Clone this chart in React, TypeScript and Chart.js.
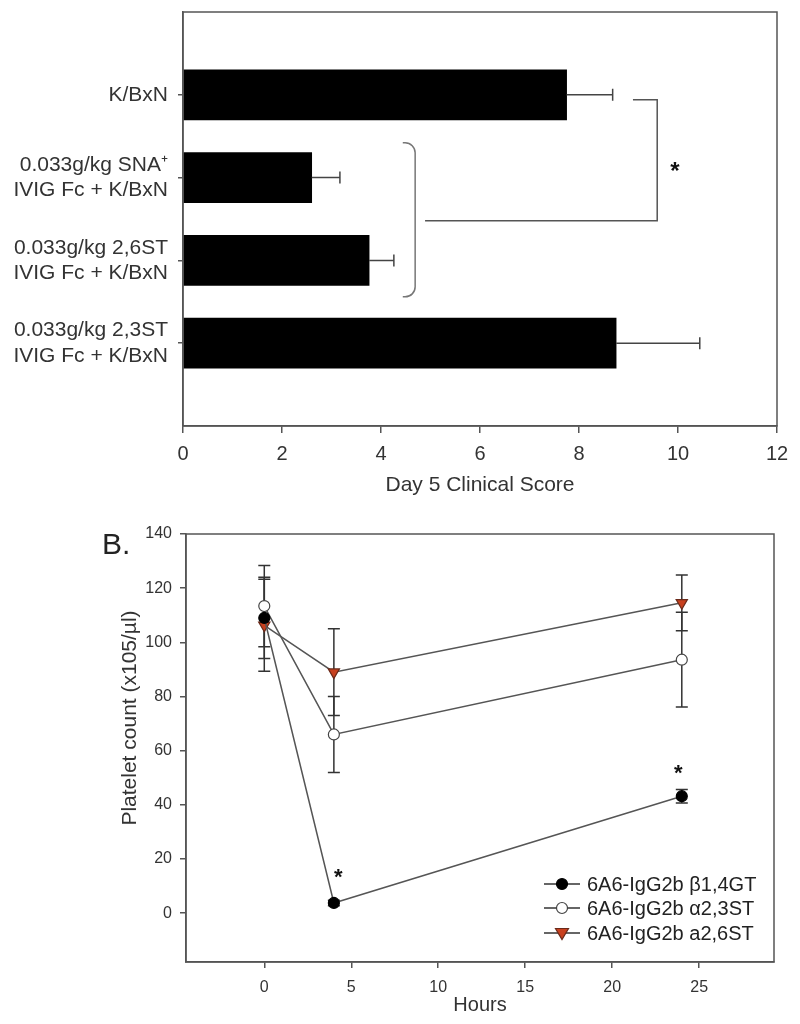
import React, { useEffect, useRef } from 'react';
import { Chart, registerables } from 'chart.js';

Chart.register(...registerables);

const FONT = "'Liberation Sans', Arial, sans-serif";

// ---------- Panel A data ----------
const scoreCategories: (string | string[])[] = [
  '',
  'K/BxN',
  ['0.033g/kg SNA⁺', 'IVIG Fc + K/BxN'],
  ['0.033g/kg 2,6ST', 'IVIG Fc + K/BxN'],
  ['0.033g/kg 2,3ST', 'IVIG Fc + K/BxN'],
  '',
];
const scoreValues: (number | null)[] = [null, 7.75, 2.6, 3.76, 8.75, null];
const scoreErrors: (number | null)[] = [null, 0.93, 0.57, 0.5, 1.69, null];
const scoreTicks = [0, 2, 4, 6, 8, 10, 12];
const scoreTitle = 'Day 5 Clinical Score';

// significance annotations (data units: x = score, y = category index)
const groupBracketX = [4.44, 4.69];
const groupBracketY = [1.58, 3.44];
const sigLineX = [4.89, 9.58];
const sigLineTopX = 9.09;
const sigLineY = [1.06, 2.52];
const sigStarA = { x: 9.94, y: 1.85 };

// ---------- Panel B data ----------
const hours = [0, 4, 24];
const seriesNames = ['6A6-IgG2b β1,4GT', '6A6-IgG2b α2,3ST', '6A6-IgG2b a2,6ST'];
const gtValues = [109, 3.8, 43.2];
const gtErrors = [15, 1, 2.5];
const st23Values = [113.4, 66, 93.6];
const st23Errors = [15, 14, 17.5];
const st26Values = [106.3, 89, 114.6];
const st26Errors = [17, 16, 10.3];
const hourTicks = [0, 5, 10, 15, 20, 25];
const countTicks = [0, 20, 40, 60, 80, 100, 120, 140];
const sigStarsB = [
  { x: 4.25, y: 15.5 },
  { x: 23.8, y: 54 },
];

const RED = '#c8401e';

function drawStar(ctx: CanvasRenderingContext2D, x: number, y: number, size: number) {
  ctx.save();
  ctx.fillStyle = '#111';
  ctx.font = `bold ${size}px ${FONT}`;
  ctx.textAlign = 'center';
  ctx.textBaseline = 'alphabetic';
  ctx.fillText('*', x, y + size * 0.57);
  ctx.restore();
}

function drawMarker(ctx: CanvasRenderingContext2D, kind: number, x: number, y: number) {
  ctx.save();
  ctx.lineWidth = 1.2;
  if (kind === 0) {
    ctx.fillStyle = '#000';
    ctx.strokeStyle = '#000';
    ctx.beginPath();
    ctx.arc(x, y, 5.5, 0, Math.PI * 2);
    ctx.fill();
    ctx.stroke();
  } else if (kind === 1) {
    ctx.fillStyle = '#fff';
    ctx.strokeStyle = '#444';
    ctx.beginPath();
    ctx.arc(x, y, 5.5, 0, Math.PI * 2);
    ctx.fill();
    ctx.stroke();
  } else {
    ctx.fillStyle = RED;
    ctx.strokeStyle = '#6a2a1a';
    ctx.beginPath();
    ctx.moveTo(x - 6.5, y - 4.5);
    ctx.lineTo(x + 6.5, y - 4.5);
    ctx.lineTo(x, y + 6.5);
    ctx.closePath();
    ctx.fill();
    ctx.stroke();
  }
  ctx.restore();
}

function topConfig(): any {
  const plugin = {
    id: 'panelA',
    afterDatasetsDraw(chart: any) {
      const ctx: CanvasRenderingContext2D = chart.ctx;
      const xs = chart.scales.x;
      const ys = chart.scales.y;
      const X = (v: number) => xs.getPixelForValue(v);
      const Y = (v: number) => ys.getPixelForValue(v);
      ctx.save();
      // error bars
      ctx.strokeStyle = '#444';
      ctx.lineWidth = 1.5;
      scoreValues.forEach((v, i) => {
        const e = scoreErrors[i];
        if (v == null || e == null) return;
        const x0 = X(v);
        const x1 = X(v + e);
        const yy = Y(i);
        ctx.beginPath();
        ctx.moveTo(x0, yy);
        ctx.lineTo(x1, yy);
        ctx.moveTo(x1, yy - 6);
        ctx.lineTo(x1, yy + 6);
        ctx.stroke();
      });
      // frame
      const a = chart.chartArea;
      ctx.strokeStyle = '#555';
      ctx.lineWidth = 1.5;
      ctx.strokeRect(a.left, a.top, a.right - a.left, a.bottom - a.top);
      // group bracket
      ctx.strokeStyle = '#777';
      ctx.lineWidth = 1.5;
      const bx0 = X(groupBracketX[0]);
      const bx1 = X(groupBracketX[1]);
      const by0 = Y(groupBracketY[0]);
      const by1 = Y(groupBracketY[1]);
      ctx.beginPath();
      ctx.moveTo(bx0, by0);
      ctx.arcTo(bx1, by0, bx1, by1, 10);
      ctx.arcTo(bx1, by1, bx0, by1, 10);
      ctx.lineTo(bx0, by1);
      ctx.stroke();
      // significance connector
      ctx.strokeStyle = '#555';
      ctx.beginPath();
      ctx.moveTo(X(sigLineX[0]), Y(sigLineY[1]));
      ctx.lineTo(X(sigLineX[1]), Y(sigLineY[1]));
      ctx.lineTo(X(sigLineX[1]), Y(sigLineY[0]));
      ctx.lineTo(X(sigLineTopX), Y(sigLineY[0]));
      ctx.stroke();
      ctx.restore();
      drawStar(ctx, X(sigStarA.x), Y(sigStarA.y), 24);
    },
  };

  return {
    type: 'bar',
    data: {
      labels: scoreCategories,
      datasets: [
        {
          data: scoreValues,
          backgroundColor: '#000',
          borderWidth: 0,
          barThickness: 50,
        },
      ],
    },
    options: {
      animation: false,
      responsive: false,
      maintainAspectRatio: false,
      indexAxis: 'y',
      layout: { padding: { left: 0, right: 23, top: 12, bottom: 0 } },
      plugins: { legend: { display: false }, tooltip: { enabled: false } },
      scales: {
        x: {
          type: 'linear',
          min: 0,
          max: 12,
          afterFit: (s: any) => {
            s.height = 74;
          },
          afterBuildTicks: (s: any) => {
            s.ticks = scoreTicks.map((v) => ({ value: v }));
          },
          ticks: { color: '#333', font: { family: FONT, size: 20 }, padding: 9, maxRotation: 0 },
          grid: { drawOnChartArea: false, drawTicks: true, tickLength: 7, color: '#555', lineWidth: 1.5 },
          border: { display: true, color: '#555', width: 1.5 },
          title: {
            display: true,
            text: scoreTitle,
            color: '#333',
            font: { family: FONT, size: 21 },
            padding: { top: 0, bottom: 2 },
          },
        },
        y: {
          type: 'category',
          offset: false,
          afterFit: (s: any) => {
            s.width = 183;
            s.paddingTop = 0;
            s.paddingBottom = 0;
          },
          ticks: { color: '#333', font: { family: FONT, size: 21 }, padding: 10, autoSkip: false },
          grid: {
            offset: false,
            drawOnChartArea: false,
            drawTicks: true,
            tickLength: 5,
            lineWidth: 1.5,
            color: (c: any) =>
              c.index === 0 || c.index === scoreCategories.length - 1 ? 'rgba(0,0,0,0)' : '#555',
          },
          border: { display: true, color: '#555', width: 1.5 },
        },
      },
    },
    plugins: [plugin],
  };
}

function bottomConfig(): any {
  const seriesValues = [gtValues, st23Values, st26Values];
  const seriesErrors = [gtErrors, st23Errors, st26Errors];

  const plugin = {
    id: 'panelB',
    beforeDatasetsDraw(chart: any) {
      const ctx: CanvasRenderingContext2D = chart.ctx;
      const xs = chart.scales.x;
      const ys = chart.scales.y;
      ctx.save();
      ctx.strokeStyle = '#333';
      ctx.lineWidth = 1.5;
      seriesValues.forEach((vals, s) => {
        vals.forEach((v, i) => {
          const e = seriesErrors[s][i];
          const px = xs.getPixelForValue(hours[i]);
          const yTop = ys.getPixelForValue(v + e);
          const yBot = ys.getPixelForValue(v - e);
          ctx.beginPath();
          ctx.moveTo(px, yTop);
          ctx.lineTo(px, yBot);
          ctx.moveTo(px - 6, yTop);
          ctx.lineTo(px + 6, yTop);
          ctx.moveTo(px - 6, yBot);
          ctx.lineTo(px + 6, yBot);
          ctx.stroke();
        });
      });
      ctx.restore();
    },
    afterDraw(chart: any) {
      const ctx: CanvasRenderingContext2D = chart.ctx;
      const xs = chart.scales.x;
      const ys = chart.scales.y;
      const a = chart.chartArea;
      ctx.save();
      ctx.strokeStyle = '#555';
      ctx.lineWidth = 1.5;
      ctx.strokeRect(a.left, a.top, a.right - a.left, a.bottom - a.top);
      ctx.restore();

      sigStarsB.forEach((s) => drawStar(ctx, xs.getPixelForValue(s.x), ys.getPixelForValue(s.y), 22));

      // legend
      ctx.save();
      const lx = a.right - 230;
      const rows = [a.bottom - 78, a.bottom - 54, a.bottom - 29];
      seriesNames.forEach((name, i) => {
        const ry = rows[i];
        ctx.strokeStyle = '#333';
        ctx.lineWidth = 1.5;
        ctx.beginPath();
        ctx.moveTo(lx, ry);
        ctx.lineTo(lx + 36, ry);
        ctx.stroke();
        drawMarker(ctx, i, lx + 18, ry);
        ctx.fillStyle = '#222';
        ctx.font = `20px ${FONT}`;
        ctx.textAlign = 'left';
        ctx.textBaseline = 'middle';
        ctx.fillText(name, lx + 43, ry + 1);
      });

      // y title
      ctx.save();
      ctx.translate(a.left - 56, a.top + 184);
      ctx.rotate(-Math.PI / 2);
      ctx.fillStyle = '#333';
      ctx.font = `21px ${FONT}`;
      ctx.textAlign = 'center';
      ctx.textBaseline = 'middle';
      ctx.fillText('Platelet count (x105/µl)', 0, 0);
      ctx.restore();

      // panel label
      ctx.fillStyle = '#222';
      ctx.font = `30px ${FONT}`;
      ctx.textAlign = 'left';
      ctx.textBaseline = 'middle';
      ctx.fillText('B.', a.left - 84, a.top + 12);
      ctx.restore();
    },
  };

  const mk = (vals: number[], i: number) => ({
    label: seriesNames[i],
    data: hours.map((h, k) => ({ x: h, y: vals[k] })),
    borderColor: '#555',
    borderWidth: 1.5,
    tension: 0,
    fill: false,
    pointRadius: i === 2 ? 6.5 : 5.5,
    pointStyle: i === 2 ? 'triangle' : 'circle',
    rotation: i === 2 ? 180 : 0,
    pointRotation: i === 2 ? 180 : 0,
    pointBackgroundColor: i === 0 ? '#000' : i === 1 ? '#fff' : RED,
    pointBorderColor: i === 0 ? '#000' : i === 1 ? '#444' : '#6a2a1a',
    pointBorderWidth: 1.2,
  });

  return {
    type: 'line',
    data: {
      datasets: [mk(gtValues, 0), mk(st23Values, 1), mk(st26Values, 2)],
    },
    options: {
      animation: false,
      responsive: false,
      maintainAspectRatio: false,
      layout: { padding: { left: 0, right: 26, top: 34, bottom: 0 } },
      plugins: { legend: { display: false }, tooltip: { enabled: false } },
      scales: {
        x: {
          type: 'linear',
          min: -4.5,
          max: 29.3,
          afterFit: (s: any) => {
            s.height = 62;
          },
          afterBuildTicks: (s: any) => {
            s.ticks = hourTicks.map((v) => ({ value: v }));
          },
          ticks: { color: '#333', font: { family: FONT, size: 16 }, padding: 10, maxRotation: 0 },
          grid: { drawOnChartArea: false, drawTicks: true, tickLength: 6, color: '#555', lineWidth: 1.5 },
          border: { display: true, color: '#555', width: 1.5 },
          title: {
            display: true,
            text: 'Hours',
            color: '#333',
            font: { family: FONT, size: 20 },
            padding: { top: 0, bottom: 7 },
          },
        },
        y: {
          type: 'linear',
          min: -18,
          max: 140,
          afterFit: (s: any) => {
            s.width = 186;
          },
          afterBuildTicks: (s: any) => {
            s.ticks = countTicks.map((v) => ({ value: v }));
          },
          ticks: { color: '#333', font: { family: FONT, size: 16 }, padding: 8 },
          grid: { drawOnChartArea: false, drawTicks: true, tickLength: 6, color: '#555', lineWidth: 1.5 },
          border: { display: true, color: '#555', width: 1.5 },
        },
      },
    },
    plugins: [plugin],
  };
}

export default function App() {
  const topRef = useRef<HTMLCanvasElement>(null);
  const botRef = useRef<HTMLCanvasElement>(null);

  useEffect(() => {
    const c1 = new Chart(topRef.current as HTMLCanvasElement, topConfig());
    const c2 = new Chart(botRef.current as HTMLCanvasElement, bottomConfig());
    return () => {
      c1.destroy();
      c2.destroy();
    };
  }, []);

  return (
    <div style={{ position: 'absolute', left: 0, top: 0, width: 800, height: 1024, background: '#fff' }}>
      <canvas ref={topRef} width={800} height={500} style={{ position: 'absolute', left: 0, top: 0 }} />
      <canvas ref={botRef} width={800} height={524} style={{ position: 'absolute', left: 0, top: 500 }} />
    </div>
  );
}
